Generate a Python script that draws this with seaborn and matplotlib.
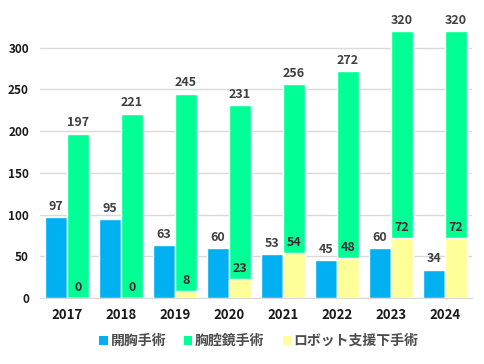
import pandas as pd
import seaborn as sns
import matplotlib.pyplot as plt
from matplotlib.patches import Patch

years = ['2017', '2018', '2019', '2020', '2021', '2022', '2023', '2024']
open_surgery = [97, 95, 63, 60, 53, 45, 60, 34]
vats = [197, 221, 245, 231, 256, 272, 320, 320]
robot = [0, 0, 8, 23, 54, 48, 72, 72]

names = ['開胸手術', '胸腔鏡手術', 'ロボット支援下手術']
colors = ['#00B0F0', '#00FF95', '#FFFF99']

sns.set_style('white')
plt.rcParams['font.family'] = ['Noto Sans CJK JP', 'DejaVu Sans']

# blue + green side by side
df = pd.DataFrame({
    'year': years * 2,
    'value': open_surgery + vats,
    'series': [names[0]] * 8 + [names[1]] * 8,
})
# yellow sits on top of green, same slot
df_r = pd.DataFrame({'year': years, 'value': robot, 'series': [names[2]] * 8})

fig = plt.figure(figsize=(4.84, 3.64), dpi=100)
ax = fig.add_axes([40 / 484, 66 / 364, 432 / 484, 292 / 364])

sns.barplot(data=df, x='year', y='value', hue='series', hue_order=names[:2],
            palette=colors[:2], width=0.82, dodge=True, saturation=1,
            legend=False, ax=ax)
sns.barplot(data=df_r, x='year', y='value', hue='series',
            hue_order=[names[0], names[2]],
            palette=[colors[0], colors[2]], width=0.82, dodge=True,
            saturation=1, legend=False, ax=ax)

# value labels
for c in ax.containers:
    for bar in c:
        h = bar.get_height()
        fc = bar.get_facecolor()
        txtc = '#4a2535' if fc[2] < 0.7 and fc[0] > 0.9 else '#404040'
        ax.annotate(f'{int(h)}', (bar.get_x() + bar.get_width() / 2, h),
                    xytext=(0, 3), textcoords='offset points',
                    ha='center', va='bottom', fontsize=9,
                    fontweight='bold', color=txtc)

ax.set_xlim(-0.5, 7.5)
ax.set_ylim(0, 350)
ax.set_yticks(range(0, 301, 50))
ax.yaxis.grid(True, color='#d9d9d9', lw=1)
ax.set_axisbelow(True)
ax.set_xlabel('')
ax.set_ylabel('')
for s in ['top', 'right', 'left']:
    ax.spines[s].set_visible(False)
ax.spines['bottom'].set_color('#d9d9d9')
ax.set_xticks([i + 0.5 for i in range(-1, 8)], minor=True)
ax.tick_params(axis='x', which='minor', length=4, color='#d9d9d9')
ax.tick_params(axis='x', which='major', length=0, labelsize=9.5, pad=7)
ax.tick_params(axis='y', length=0, labelsize=8.5, pad=8)
for t in ax.get_xticklabels() + ax.get_yticklabels():
    t.set_fontweight('bold')
    t.set_color('#1a1a1a')

handles = [Patch(facecolor=c, edgecolor='none') for c in colors]
leg = fig.legend(handles, names, loc='center', bbox_to_anchor=(0.535, 0.063),
                 ncol=3, frameon=False, fontsize=10, handlelength=0.6,
                 handleheight=0.6, handletextpad=0.2, columnspacing=1.3)
for t in leg.get_texts():
    t.set_color('#4d4d4d')
    t.set_fontweight('bold')

fig.savefig('out.png', dpi=100)
